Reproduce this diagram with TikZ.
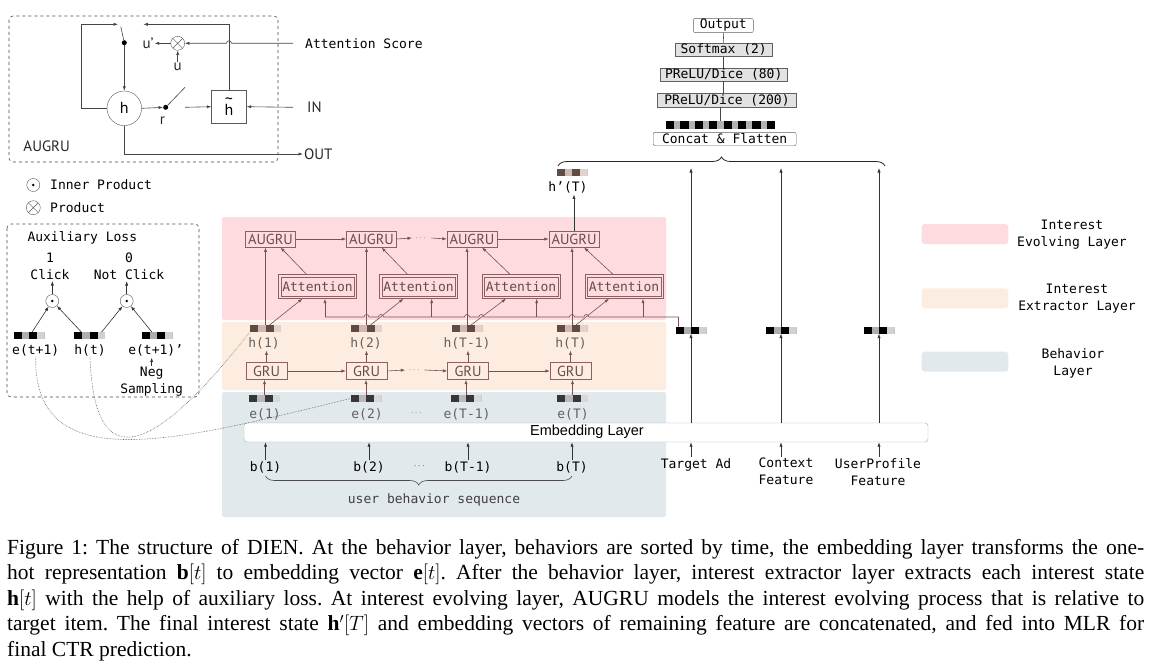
\documentclass[tikz,border=0pt]{standalone}
\usepackage{amsmath}
\usepackage{fontspec}
\setmainfont{Liberation Serif}
\setmonofont{DejaVu Sans Mono}
\newfontfamily\condsf{PT Sans}
\newfontfamily\helvsf{Liberation Sans}
\usetikzlibrary{positioning,shapes,arrows.meta,calc,decorations.pathreplacing}

\definecolor{evolvebg}{RGB}{253,219,223}
\definecolor{extractbg}{RGB}{253,237,224}
\definecolor{behavbg}{RGB}{226,233,236}
\definecolor{boxline}{RGB}{140,96,96}
\definecolor{boxtext}{RGB}{105,75,75}
\definecolor{hdark}{RGB}{95,75,68}
\definecolor{hlight}{RGB}{205,185,175}
\definecolor{hlighter}{RGB}{225,210,202}
\definecolor{edark}{RGB}{55,55,55}
\definecolor{elight}{RGB}{185,185,185}
\definecolor{lblgray}{RGB}{100,96,96}
\definecolor{mlpfill}{RGB}{226,226,226}

\tikzset{
    vecbar/.style n args={3}{minimum width=31pt, minimum height=7pt, inner sep=0pt, outer sep=0pt, fill=#2,
        path picture={
            \fill [#1] (path picture bounding box.south west) rectangle ++(8pt,7pt);
            \fill [#1] ([xshift=15.5pt]path picture bounding box.south west) rectangle ++(8pt,7pt);
            \fill [#3] ([xshift=23.5pt]path picture bounding box.south west) rectangle ++(7.5pt,7pt);
        }},
    hvec/.style={vecbar={hdark}{hlight}{hlighter}},
    evec/.style={vecbar={edark}{elight}{elight!55}},
    kvec/.style={vecbar={black}{black!32}{black!18}},
    catbar/.style={minimum width=109.3pt, minimum height=7pt, inner sep=0pt, fill=black!30,
        path picture={
            \foreach \k in {0,...,7}
                \fill [black] ([xshift=\k*14.43pt]path picture bounding box.south west) rectangle ++(8.3pt,7pt);
        }},
    dotprod/.style={draw=gray!70!black, circle, minimum size=13pt, inner sep=0pt, fill=white,
        path picture={\fill [black] (path picture bounding box.center) circle (1.4pt);}},
    crossprod/.style={draw=gray!70!black, circle, minimum size=14pt, inner sep=0pt, fill=white,
        path picture={\draw [gray!70!black] (path picture bounding box.north west) -- (path picture bounding box.south east)
            (path picture bounding box.north east) -- (path picture bounding box.south west);}}
}

\begin{document}
\begin{tikzpicture}[x=1pt, y=-1pt,
    lbl/.style={font=\ttfamily\fontsize{13}{17}\selectfont, inner sep=1pt},
    hlbl/.style={lbl, text=lblgray},
    sflbl/.style={font=\condsf\fontsize{15}{17}\selectfont, inner sep=1pt, text=black!85},
    augbox/.style={draw=boxline, fill=evolvebg, text=boxtext, font=\condsf\fontsize{14.5}{15}\selectfont,
        minimum width=50pt, minimum height=16.5pt, inner sep=1pt},
    grubox/.style={augbox, fill=extractbg, minimum width=40.7pt, minimum height=17pt},
    attbox/.style={draw=boxline, fill=evolvebg, text=boxtext, font=\ttfamily\fontsize{13}{15}\selectfont,
        minimum width=78pt, minimum height=24pt, inner sep=1pt,
        path picture={\draw [boxline] ([shift={(2.2pt,2.2pt)}]path picture bounding box.south west)
            rectangle ([shift={(-2.2pt,-2.2pt)}]path picture bounding box.north east);}},
    mlpbox/.style={draw=gray!75!black, fill=mlpfill, font=\ttfamily\fontsize{13}{15}\selectfont,
        minimum height=13.4pt, inner sep=1pt},
    rbox/.style={mlpbox, fill=white, rounded corners=2pt},
    embbox/.style={draw=gray!65, fill=white, rounded corners=3pt, minimum width=684pt, minimum height=19pt},
    patch/.style={rounded corners=3pt, minimum width=86.6pt, minimum height=20pt},
    dashedbox/.style={dashed, draw=gray!60!black, rounded corners=4pt, line width=0.6pt},
    sw/.style={circle, fill=black, inner sep=0pt, minimum size=5pt},
    arrow/.style={-{Latex[length=4.5pt,width=3.2pt]}, line width=0.6pt},
    garrow/.style={arrow, draw=gray!55!black},
    gline/.style={line width=0.6pt, draw=gray!55!black},
    karrow/.style={arrow, draw=black!80},
    barrow/.style={arrow, draw=boxline!85!black},
    bline/.style={line width=0.6pt, draw=boxline!85!black},
    dotline/.style={densely dotted, line width=0.6pt, draw=gray!75!black},
    brace/.style={decorate, decoration={brace, amplitude=9pt}, line width=0.8pt, draw=black!85}]

% page and layer bands
\fill [white] (0,0) rectangle (1150,666);
\useasboundingbox (0,0) rectangle (1150,666);
\fill [evolvebg, rounded corners=2pt] (222,217) rectangle (666,320);
\fill [extractbg, rounded corners=2pt] (222,322) rectangle (666,390);
\fill [behavbg, rounded corners=2pt] (222,392) rectangle (666,517);

% AUGRU unit
\draw [dashedbox] (9,16) rectangle (278,162);
\node [draw=gray!70!black, circle, minimum size=34.6pt, inner sep=0pt, font=\condsf\fontsize{16}{16}\selectfont] (hc) at (124.3,108.3) {h};
\node [draw=gray!70!black, minimum width=35pt, minimum height=33pt, inner sep=0pt, font=\condsf\fontsize{16}{16}\selectfont] (ht) at (229,106.7) {\shortstack{\textasciitilde\\[-3pt]h}};
\node [crossprod] (prod) at (177.7,43.3) {};
\node [sw] (sw1) at (124.3,42.7) {};
\node [sw] (sw2) at (165.7,107.3) {};
\node [sflbl] (up) at (148,43.3) {u’};
\node [sflbl] (u) at (177.7,67) {u};
\node [sflbl] (r) at (162.3,121) {r};
\coordinate (ascin) at (293,43.3);
\coordinate (inin) at (293,107.3);
\coordinate (swout) at (185,107.3);
\node [lbl, anchor=west] (ascl) at (304,43.3) {Attention Score};
\node [sflbl, anchor=west] (inl) at (306,107.3) {IN};
\node [sflbl, anchor=west] (outl) at (303,154) {OUT};
\node [sflbl] (augl) at (46.7,146.7) {AUGRU};

\draw [garrow] (hc.west) -- (81.7,108.3) |- (118,24.3);
\draw [gline] (sw1) -- ++(-3.5,-16);
\draw [garrow] (ht.north) |- (143.3,24.3);
\draw [garrow] (ascin) -- (231.5,43.3) arc [start angle=0, end angle=180, radius=2.5pt] -- (prod.east);
\draw [garrow] (prod.west) -- (up.east);
\draw [garrow] (u.north) -- (prod.south);
\draw [garrow] (sw1) -- (hc.north);
\draw [garrow] (hc.east) -- (sw2);
\draw [gline] (sw2) -- (185,87.3);
\draw [garrow] (swout) -- (ht.west);
\draw [garrow] (inin) -- (ht.east);
\draw [garrow] (hc.south) |- (outl.west);

% symbol legend
\node [dotprod] (lgip) at (33.3,185) {};
\node [lbl, anchor=west] (lgipl) at (49,185) {Inner Product};
\node [crossprod] (lgpr) at (33.3,207.7) {};
\node [lbl, anchor=west] (lgprl) at (49,207.7) {Product};

% auxiliary loss
\draw [dashedbox] (7,224) rectangle (199,397);
\node [lbl] (auxl) at (82.3,237.7) {Auxiliary Loss};
\node [lbl, align=center] (clk) at (50,266.5) {1\\Click};
\node [lbl, align=center] (nclk) at (129,266.5) {0\\Not Click};
\node [dotprod] (ip1) at (52.3,301) {};
\node [dotprod] (ip2) at (126.7,301) {};
\node [kvec] (etv) at (29,335.7) {};
\node [kvec] (htv) at (89.5,335.7) {};
\node [kvec] (env) at (157,335.7) {};
\node [lbl] (etl) at (35.7,350.7) {e(t+1)};
\node [lbl] (htl) at (90,350.7) {h(t)};
\node [lbl] (enl) at (155.7,350.7) {e(t+1)’};
\node [lbl, align=center] (neg) at (151.7,382) {Neg\\Sampling};

\draw [karrow] ([xshift=3pt]etv.north) -- (ip1);
\draw [karrow] ([xshift=-8pt]htv.north) -- (ip1);
\draw [karrow] ([xshift=12pt]htv.north) -- (ip2);
\draw [karrow] ([xshift=-5pt]env.north) -- (ip2);
\draw [karrow] (ip1.north) -- (ip1.north |- clk.south);
\draw [karrow] (ip2.north) -- (ip2.north |- nclk.south);
\draw [karrow] (neg.north) -- (neg.north |- enl.south);

% interest evolving layer
\node [augbox] (aug1) at (270.5,239) {AUGRU};
\node [augbox] (aug2) at (371.5,239) {AUGRU};
\node [augbox] (aug3) at (472,239) {AUGRU};
\node [augbox] (aug4) at (574,239) {AUGRU};
\node [text=lblgray, font=\small] (adots) at (421.7,238) {$\cdots$};
\node [attbox] (att1) at (317.5,286.5) {Attention};
\node [attbox] (att2) at (418.5,286.5) {Attention};
\node [attbox] (att3) at (521,286.5) {Attention};
\node [attbox] (att4) at (624,286.5) {Attention};

% interest extractor layer
\node [hvec] (h1v) at (265.5,328.5) {};
\node [hvec] (h2v) at (366.5,328.5) {};
\node [hvec] (h3v) at (467,328.5) {};
\node [hvec] (h4v) at (572,328.5) {};
\node [hlbl] (h1l) at (264,343.5) {h(1)};
\node [hlbl] (h2l) at (366,343.5) {h(2)};
\node [hlbl] (h3l) at (467,343.5) {h(T-1)};
\node [hlbl] (h4l) at (571,343.5) {h(T)};
\node [grubox] (gru1) at (266.5,371) {GRU};
\node [grubox] (gru2) at (366.5,371) {GRU};
\node [grubox] (gru3) at (468,371) {GRU};
\node [grubox] (gru4) at (570.5,371) {GRU};
\node [text=lblgray, font=\small] (gdots) at (415,370) {$\cdots$};

% behavior layer
\node [evec] (e1v) at (264.5,398.5) {};
\node [evec] (e2v) at (366,398.5) {};
\node [evec] (e3v) at (466,398.5) {};
\node [evec] (e4v) at (572.5,398.5) {};
\node [hlbl] (e1l) at (265,414) {e(1)};
\node [hlbl] (e2l) at (367,414) {e(2)};
\node [text=lblgray, font=\small] (edots) at (417,413) {$\cdots$};
\node [hlbl] (e3l) at (467,414) {e(T-1)};
\node [hlbl] (e4l) at (573,414) {e(T)};
\node [embbox] (emb) at (586,432.5) {};
\node [font=\helvsf\fontsize{14.5}{15}\selectfont] (embl) at (587,432) {Embedding Layer};
\node [lbl] (b1) at (265.5,467) {b(1)};
\node [lbl] (b2) at (369,467) {b(2)};
\node [text=black, font=\small] (bdots) at (420,466) {$\cdots$};
\node [lbl] (b3) at (468,467) {b(T-1)};
\node [lbl] (b4) at (572,467) {b(T)};
\node [lbl, text=black!75] (ubs) at (434,499.5) {user behavior sequence};
\draw [brace, draw=black!70, line width=0.6pt] (572,476) -- (265.5,476);

\draw [barrow] (aug1.east) -- (aug2.west);
\draw [barrow] (aug2.east) -- (adots.west);
\draw [barrow] (adots.east) -- (aug3.west);
\draw [barrow] (aug3.east) -- (aug4.west);
\draw [barrow] (gru1.east) -- (gru2.west);
\draw [barrow] (gru2.east) -- (gdots.west);
\draw [barrow] (gdots.east) -- (gru3.west);
\draw [barrow] (gru3.east) -- (gru4.west);

\draw [barrow] (h1v.north) -- (h1v.north |- aug1.south);
\draw [barrow] (h2v.north) -- (h2v.north |- aug2.south);
\draw [barrow] (h3v.north) -- (h3v.north |- aug3.south);
\draw [barrow] (h4v.north) -- (h4v.north |- aug4.south);
\draw [barrow] ([xshift=4pt]h1v.north) -- ([xshift=-15pt]att1.south);
\draw [barrow] ([xshift=4pt]h2v.north) -- ([xshift=-15pt]att2.south);
\draw [barrow] ([xshift=4pt]h3v.north) -- ([xshift=-15pt]att3.south);
\draw [barrow] ([xshift=4pt]h4v.north) -- ([xshift=-15pt]att4.south);
\draw [barrow] ([xshift=-11pt]att1.north) -- ([xshift=10pt]aug1.south);
\draw [barrow] ([xshift=-11pt]att2.north) -- ([xshift=10pt]aug2.south);
\draw [barrow] ([xshift=-11pt]att3.north) -- ([xshift=10pt]aug3.south);
\draw [barrow] ([xshift=-11pt]att4.north) -- ([xshift=10pt]aug4.south);

\draw [barrow] (gru1.north) -- (gru1.north |- h1l.south);
\draw [barrow] (gru2.north) -- (gru2.north |- h2l.south);
\draw [barrow] (gru3.north) -- (gru3.north |- h3l.south);
\draw [barrow] (gru4.north) -- (gru4.north |- h4l.south);
\draw [barrow] (e1v.north) -- (e1v.north |- gru1.south);
\draw [barrow] (e2v.north) -- (e2v.north |- gru2.south);
\draw [barrow] (e3v.north) -- (e3v.north |- gru3.south);
\draw [barrow] (e4v.north) -- (e4v.north |- gru4.south);
\draw [karrow] (b1.north) -- (b1.north |- emb.south);
\draw [karrow] (b2.north) -- (b2.north |- emb.south);
\draw [karrow] (b3.north) -- (b3.north |- emb.south);
\draw [karrow] (b4.north) -- (b4.north |- emb.south);

% auxiliary loss links
\draw [dotline] (etl.south) .. controls (34,480) and (180,440) .. (e2v.west);
\draw [dotline] (htl.south) .. controls (95,490) and (165,440) .. (h1v.south west);

% other features
\node [kvec] (tadv) at (691,330) {};
\node [kvec] (ctxv) at (781,330) {};
\node [kvec] (upv) at (879,330) {};
\node [lbl, anchor=north] (tad) at (696,457) {Target Ad};
\node [lbl, anchor=north, align=center] (ctx) at (786,457) {Context\\Feature};
\node [lbl, anchor=north, align=center] (upf) at (878,457) {UserProfile\\Feature};
\coordinate (brc) at (0,168);
\draw [karrow] (tadv.south |- tad.north) -- (tadv.south |- emb.south);
\draw [karrow] (ctxv.south |- ctx.north) -- (ctxv.south |- emb.south);
\draw [karrow] (upv.south |- upf.north) -- (upv.south |- emb.south);
\draw [karrow] (tadv.south |- emb.north) -- (tadv.south);
\draw [karrow] (ctxv.south |- emb.north) -- (ctxv.south);
\draw [karrow] (upv.south |- emb.north) -- (upv.south);
\draw [karrow] (tadv.north) -- (tadv.north |- brc);
\draw [karrow] (ctxv.north) -- (ctxv.north |- brc);
\draw [karrow] (upv.north) -- (upv.north |- brc);

% target ad to the attention units
\draw [bline] ([xshift=3pt]tadv.north west) |- (643,317) coordinate (bus4)
    -- (588.9,317) arc [start angle=0, end angle=180, radius=2.5pt]
    -- (574.5,317) arc [start angle=0, end angle=180, radius=2.5pt]
    -- (536.7,317) coordinate (bus3)
    -- (483.9,317) arc [start angle=0, end angle=180, radius=2.5pt]
    -- (469.5,317) arc [start angle=0, end angle=180, radius=2.5pt]
    -- (431.7,317) coordinate (bus2)
    -- (383.4,317) arc [start angle=0, end angle=180, radius=2.5pt]
    -- (369,317) arc [start angle=0, end angle=180, radius=2.5pt]
    -- (325,317) coordinate (bus1);
\draw [barrow] (bus1) -- (bus1 |- att1.south);
\draw [barrow] (bus2) -- (bus2 |- att2.south);
\draw [barrow] (bus3) -- (bus3 |- att3.south);
\draw [barrow] (bus4) -- (bus4 |- att4.south);

% final state and MLP
\node [hvec] (hpv) at (572,172) {};
\node [lbl] (hpl) at (568,187.5) {h’(T)};
\draw [karrow] (aug4.north) -- (aug4.north |- hpl.south);
\draw [brace] (558,166) -- (885,166);
\node [rbox, minimum width=143pt] (cat) at (724.7,139) {Concat \& Flatten};
\node [catbar] (catv) at (720.5,125) {};
\node [mlpbox, minimum width=139pt] (p200) at (727,100) {PReLU/Dice (200)};
\node [mlpbox, minimum width=127pt] (p80) at (723.7,74.5) {PReLU/Dice (80)};
\node [mlpbox, minimum width=97pt] (soft) at (723.7,49.7) {Softmax (2)};
\node [rbox, minimum width=60pt, minimum height=12.5pt] (out) at (723.3,25.5) {Output};
\draw [gline] (out.south) -- (soft.north);
\draw [gline] (soft.south) -- (p80.north);
\draw [gline] (p80.south) -- (p80.south |- p200.north);
\draw [gline] (catv.north |- p200.south) -- (catv.north);

% layer legend
\node [patch, fill=evolvebg] (lgev) at (965,234) {};
\node [patch, fill=extractbg] (lgex) at (965,298.3) {};
\node [patch, fill=behavbg] (lgbh) at (965,361.7) {};
\node [lbl, align=center] (lgevl) at (1072,234.7) {Interest\\Evolving Layer};
\node [lbl, align=center] (lgexl) at (1077,299) {Interest\\Extractor Layer};
\node [lbl, align=center] (lgbhl) at (1073,363.8) {Behavior\\Layer};

% caption
\node [anchor=north west, text width=1137pt, align=justify, inner sep=0pt,
    font=\fontsize{21.5}{25.5}\selectfont\frenchspacing] (cap) at (7,539)
    {Figure 1: The structure of DIEN. At the behavior layer, behaviors are sorted by time, the embedding layer transforms the one-\linebreak hot representation $\mathbf{b}[t]$ to embedding vector $\mathbf{e}[t]$. After the behavior layer, interest extractor layer extracts each interest state\linebreak $\mathbf{h}[t]$ with the help of auxiliary loss. At interest evolving layer, AUGRU models the interest evolving process that is relative to\linebreak target item. The final interest state $\mathbf{h}'[T]$ and embedding vectors of remaining feature are concatenated, and fed into MLR for\linebreak final CTR prediction.};

\end{tikzpicture}
\end{document}
